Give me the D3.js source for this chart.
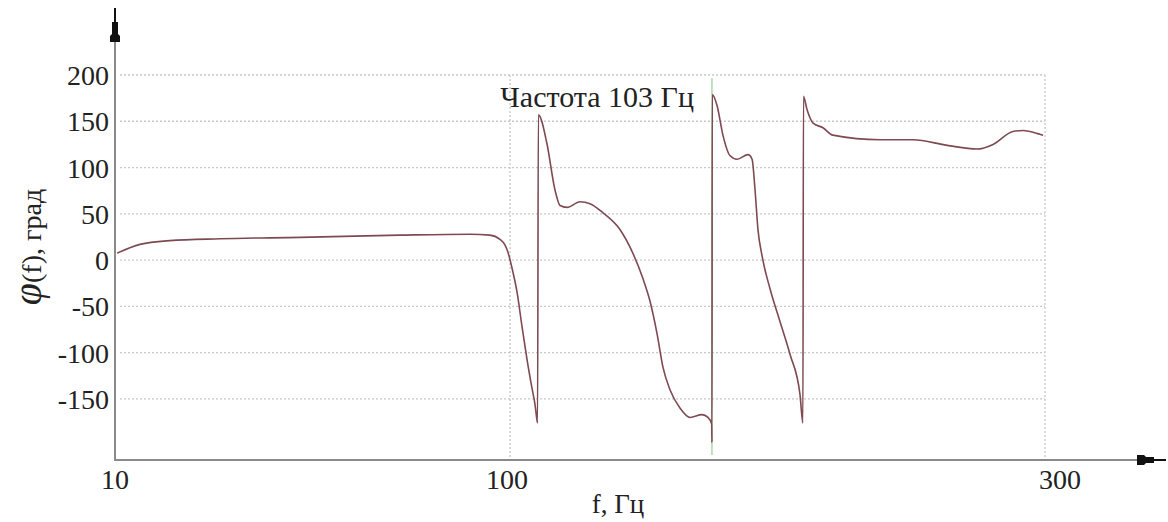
<!DOCTYPE html>
<html>
<head>
<meta charset="utf-8">
<style>
body { margin: 0; background: #fff; }
text { font-family: "Liberation Serif", "DejaVu Serif", serif; fill: #222; }
.grid line { stroke: #c8c8c8; stroke-width: 1.3px; stroke-dasharray: 2,2; }
.axisline { stroke: #8a8a8a; stroke-width: 2px; }
</style>
</head>
<body>
<script src="https://cdn.jsdelivr.net/npm/d3@7"></script>
<script>

// frequency, Hz
var freq = [10.5, 15.7, 22.5, 33.9, 52.2, 74.9, 90.9, 95.4, 97.7, 98.9, 99.5, 101.1, 102.6, 104.5, 106.4, 108.2, 109.3, 110.1,
  110.3, 110.6, 113.8, 116.8, 118.7, 121.3, 126.2, 129.9, 134.8, 141.1, 146.0, 149.7, 152.3, 155.0, 157.2, 159.8, 163.6,
  167.3, 171.8, 174.0, 175.4, 175.5,
  175.6, 177.4, 179.6, 182.2, 184.9, 189.0, 190.5, 191.6, 192.7, 194.2, 197.2, 200.9, 204.7, 208.4, 209.5,
  209.7, 211.0, 213.3, 217.0, 220.7, 238.3, 250.7, 263.4, 274.6, 280.6, 288.0, 291.8, 298.1, 299.3];
// phase, degrees
var phase = [7.5, 17, 21, 23, 24.6, 27, 28, 27, 22.5, 16, 9, -13, -34, -72, -108, -138, -155, -173,
  -176, 157, 126, 76, 59, 57, 63, 61, 51, 33, 7, -20, -44, -80, -116, -140, -160,
  -170, -167, -170, -177, -197,
  179, 167, 135, 113, 109, 114, 109, 76, 33, 5, -31, -66, -102, -145, -176,
  177, 163, 148, 143, 135, 130, 130, 124, 120, 125, 139, 140, 136, 135];

var xTicks = [10, 100, 300];
var xTickShift = [0, -3, 15];
var yTicks = [200, 150, 100, 50, 0, -50, -100, -150];
var markerFreq = 175.5;
var markerLabel = "Частота 103 Гц";

var width = 1168, height = 522;

// broken frequency axis: 10..100 and 100..300 get their own spans
var x = d3.scaleLinear().domain([10, 100, 300]).range([115, 510, 1045]);
var y = d3.scaleLinear().domain([-216, 200]).range([460, 75]);

var svg = d3.select("body").append("svg")
    .attr("width", width)
    .attr("height", height);

// grid
var grid = svg.append("g").attr("class", "grid");
grid.selectAll(".h").data(yTicks).enter().append("line")
    .attr("x1", 120).attr("x2", x(300))
    .attr("y1", function(d) { return y(d); })
    .attr("y2", function(d) { return y(d); });
grid.selectAll(".v").data(xTicks.slice(1)).enter().append("line")
    .attr("x1", function(d) { return x(d); })
    .attr("x2", function(d) { return x(d); })
    .attr("y1", y(200)).attr("y2", y(-216));

// axes lines
svg.append("line").attr("class", "axisline")
    .attr("x1", 115).attr("x2", 115).attr("y1", 42).attr("y2", 461);
svg.append("line").attr("class", "axisline")
    .attr("x1", 114).attr("x2", 1140).attr("y1", 460).attr("y2", 460);

// arrow heads
svg.append("line").attr("x1", 115).attr("x2", 115).attr("y1", 8).attr("y2", 30)
    .attr("stroke", "#111").attr("stroke-width", 2);
svg.append("path").attr("d", "M112,22 L118,22 L118,34 L120,36 L120,42 L110,42 L110,36 L112,34 Z")
    .attr("fill", "#111");
svg.append("line").attr("x1", 1140).attr("x2", 1166).attr("y1", 460).attr("y2", 460)
    .attr("stroke", "#111").attr("stroke-width", 2);
svg.append("path").attr("d", "M1137,455 L1144,455 L1146,457 L1154,457 L1154,463 L1146,463 L1144,465 L1137,465 Z")
    .attr("fill", "#111");

// tick labels
svg.selectAll(".ylab").data(yTicks).enter().append("text")
    .attr("x", 109)
    .attr("y", function(d) { return y(d) + 10; })
    .attr("text-anchor", "end")
    .style("font-size", "28px")
    .text(function(d) { return d; });
svg.selectAll(".xlab").data(xTicks).enter().append("text")
    .attr("x", function(d, i) { return x(d) + xTickShift[i]; })
    .attr("y", 489)
    .attr("text-anchor", "middle")
    .style("font-size", "28px")
    .text(function(d) { return d; });

// axis titles
svg.append("text")
    .attr("x", 618).attr("y", 513)
    .attr("text-anchor", "middle")
    .style("font-size", "27px")
    .text("f, Гц");

var yt = svg.append("text")
    .attr("transform", "translate(41,247) rotate(-90)")
    .attr("text-anchor", "middle");
yt.append("tspan").style("font-size", "40px").style("font-style", "italic").text("φ");
yt.append("tspan").style("font-size", "28px").text("(f), град");

// marker
svg.append("line")
    .attr("x1", x(markerFreq)).attr("x2", x(markerFreq))
    .attr("y1", 78).attr("y2", 455)
    .attr("stroke", "#9fcf9f").attr("stroke-width", 1.3);
svg.append("text")
    .attr("x", x(markerFreq) - 18).attr("y", 107)
    .attr("text-anchor", "end")
    .style("font-size", "30px")
    .text(markerLabel);

// phase curve
var pts = freq.map(function(f, i) { return [f, phase[i]]; });
var line = d3.line()
    .x(function(d) { return x(d[0]); })
    .y(function(d) { return y(d[1]); })
    .curve(d3.curveMonotoneX);

svg.append("path")
    .datum(pts)
    .attr("fill", "none")
    .attr("stroke", "#7d4a52")
    .attr("stroke-width", 1.6)
    .attr("d", line);

</script>
</body>
</html>
